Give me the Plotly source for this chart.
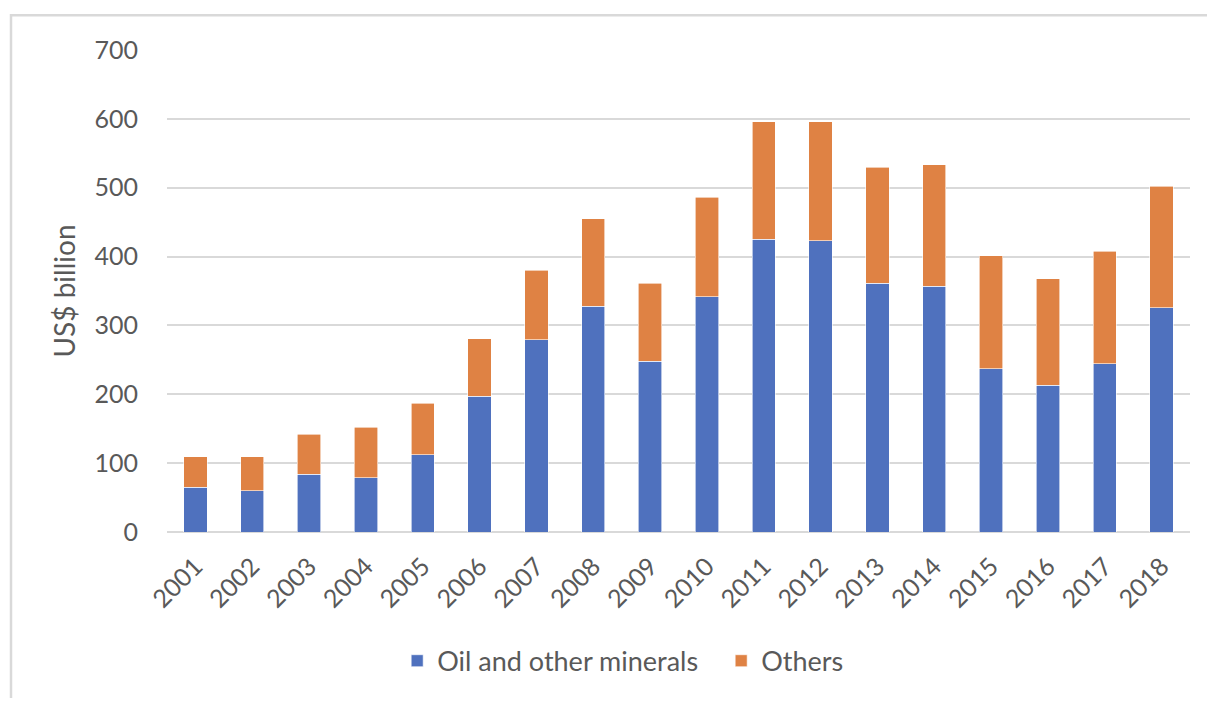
import plotly.graph_objects as go

years = ["2001", "2002", "2003", "2004", "2005", "2006", "2007", "2008", "2009",
         "2010", "2011", "2012", "2013", "2014", "2015", "2016", "2017", "2018"]
oil = [65, 60, 84, 79, 112, 197, 279, 328, 248, 342, 425, 423, 361, 357, 237, 213, 244, 326]
totals = [109, 109, 142, 152, 187, 281, 380, 455, 361, 486, 596, 596, 530, 533, 401, 368, 408, 502]
others = [t - o for t, o in zip(totals, oil)]

FONT = "Lato"
GREY = "#595959"

fig = go.Figure()
fig.add_trace(go.Bar(x=years, y=oil, name="Oil and other minerals",
                     marker=dict(color="#4F71BE", line=dict(color="#FFFFFF", width=0.6))))
fig.add_trace(go.Bar(x=years, y=others, name="Others",
                     marker=dict(color="#DF8244", line=dict(color="#FFFFFF", width=0.6))))

fig.update_layout(
    barmode="stack",
    bargap=0.59,
    width=1200, height=690,
    margin=dict(l=159, r=18, t=42, b=162),
    paper_bgcolor="white", plot_bgcolor="white",
    font=dict(family=FONT, color=GREY, size=25),
    legend=dict(orientation="h", x=0.225, xanchor="left", y=-0.268, yanchor="middle",
                font=dict(size=27, color=GREY), itemwidth=30, traceorder="normal",
                entrywidth=279, entrywidthmode="pixels"),
    showlegend=True,
    shapes=[dict(type="rect", xref="paper", yref="paper",
                 x0=-156 / 1023, x1=1.2, y0=-1.0, y1=1 + 35 / 486,
                 line=dict(color="#D9D9D9", width=2.5), fillcolor="rgba(0,0,0,0)", layer="below")],
)
fig.update_yaxes(range=[0, 700], dtick=100, showgrid=True, gridcolor="#D9D9D9", gridwidth=2,
                 zeroline=True, zerolinecolor="#D9D9D9", zerolinewidth=2,
                 showline=False, ticks="", ticklabelstandoff=28,
                 tickfont=dict(size=25, color=GREY),
                 title=dict(text="US$ billion", font=dict(size=28, color=GREY), standoff=10))
fig.update_xaxes(showgrid=False, showline=False, ticks="", tickangle=-45,
                 ticklabelstandoff=14, tickfont=dict(size=25, color=GREY))

fig.write_html("out.html")
